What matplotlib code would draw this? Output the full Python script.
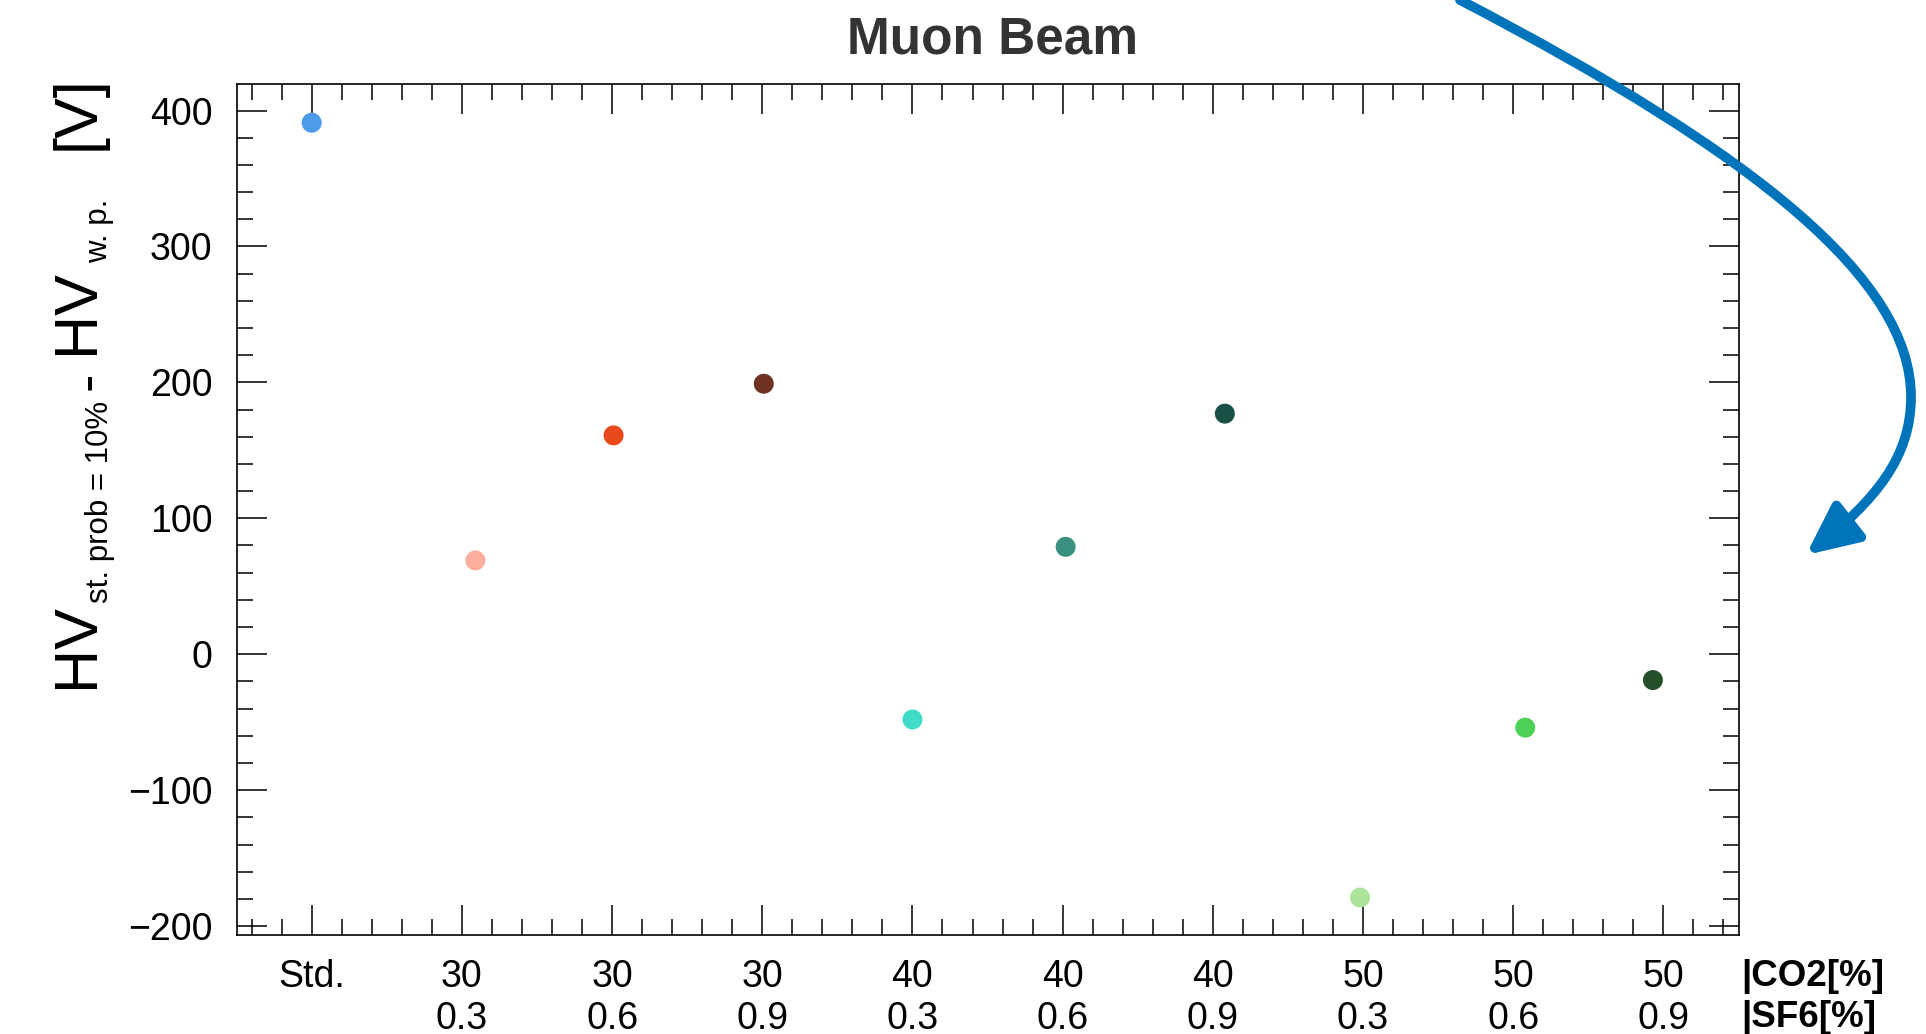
import matplotlib
matplotlib.use("Agg")
import matplotlib.pyplot as plt
from matplotlib.path import Path
from matplotlib.patches import FancyArrowPatch
from matplotlib.ticker import MultipleLocator
import numpy as np

# ---------------- data ----------------
co2_labels = ["Std.", "30", "30", "30", "40", "40", "40", "50", "50", "50"]
sf6_labels = ["", "0.3", "0.6", "0.9", "0.3", "0.6", "0.9", "0.3", "0.6", "0.9"]
x_pos = [0.0, 1.09, 2.01, 3.01, 4.0, 5.02, 6.08, 6.98, 8.08, 8.93]
delta_hv = [391, 69, 161, 199, -48, 79, 177, -179, -54, -19]
point_colors = ["#4C9BE8", "#FDAE9C", "#EA4A1B", "#6E3223", "#40DCC8",
                "#3A9180", "#1B5046", "#ADE49B", "#4CD055", "#235028"]

plt.rcParams["font.family"] = ["Liberation Sans", "DejaVu Sans"]

W, H = 1926, 1034
fig = plt.figure(figsize=(W / 100, H / 100), dpi=100)

ax_l, ax_r, ax_t, ax_b = 236.6, 1738.5, 84.0, 934.5
ax = fig.add_axes([ax_l / W, 1 - ax_b / H, (ax_r - ax_l) / W, (ax_b - ax_t) / H])

ax.scatter(x_pos, delta_hv, s=207, c=point_colors, linewidths=0, zorder=3, clip_on=False)

ax.set_xlim(-0.5, 9.5)
ax.set_ylim(-206.2, 419.5)

tick_labels = [f"{c}\n{s}" if s else c for c, s in zip(co2_labels, sf6_labels)]
ax.set_xticks(range(len(co2_labels)))
ax.set_xticklabels(tick_labels, linespacing=1.22)
ax.xaxis.set_minor_locator(MultipleLocator(0.2))
ax.yaxis.set_major_locator(MultipleLocator(100))
ax.yaxis.set_minor_locator(MultipleLocator(20))

ax.tick_params(which="both", direction="in", top=True, right=True, width=1.1,
               color="black", labelsize=27, pad=17.5)
ax.tick_params(which="major", length=21.6)
ax.tick_params(which="minor", length=11.2)
for sp in ax.spines.values():
    sp.set_linewidth(1.2)

# axis end label (right of x axis)
ax.annotate("|CO2[%]\n|SF6[%]", xy=(1, 0), xycoords="axes fraction",
            xytext=(2, -17.5), textcoords="offset points", ha="left", va="top",
            fontsize=26.5, fontweight="bold", linespacing=1.22)

# title
fig.text(992 / W, 1 - 53 / H, "Muon Beam", ha="center", va="baseline",
         fontsize=37, fontweight="bold", color="#333333")

# y label built from pieces (main text + subscripts)
M, S = 44, 22.5
ylabel_parts = [("HV", M, 688, 93.3), ("st. prob = 10%", S, 603, 107.5),
                ("-", 40, 390, 103), ("HV", M, 354, 93.3),
                ("w. p.", S, 263, 107.5), ("[V]", M, 150, 93.3)]
for txt, size, ystart, xbase in ylabel_parts:
    fig.text(xbase / W, 1 - ystart / H, txt, rotation=90, rotation_mode="anchor",
             ha="left", va="baseline", fontsize=size)

# curved arrow
pts = [(1460, 0), (1760, 156), (1911, 281), (1911, 397),
       (1911, 457), (1876, 500), (1806, 555)]
verts = [(x / W, 1 - y / H) for x, y in pts]
codes = [Path.MOVETO, Path.CURVE4, Path.CURVE4, Path.CURVE4,
         Path.CURVE4, Path.CURVE4, Path.CURVE4]
arrow = FancyArrowPatch(path=Path(verts, codes),
                        arrowstyle="-|>,head_length=31,head_width=14.5",
                        mutation_scale=1, lw=7, color="#0074BA",
                        transform=fig.transFigure, zorder=10, clip_on=False)
fig.add_artist(arrow)

fig.savefig("out.png", dpi=100)
